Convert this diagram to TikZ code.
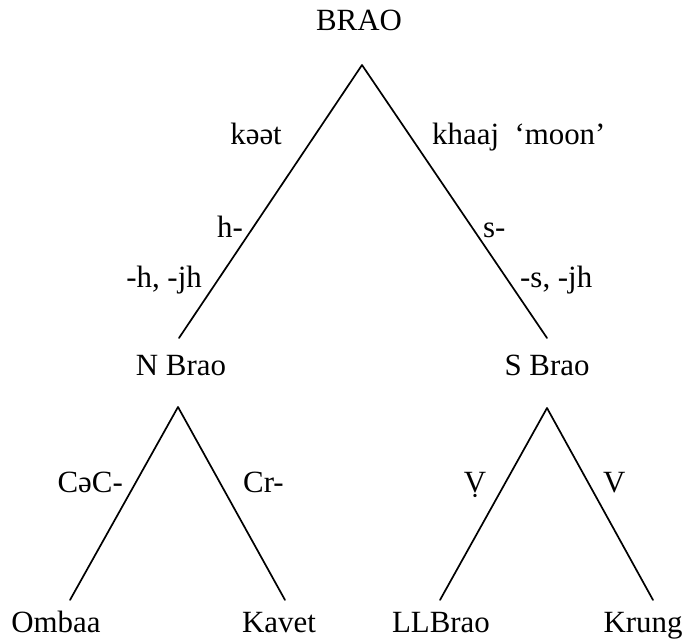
\documentclass[tikz,border=0pt]{standalone}
\usepackage{fontspec}
\setmainfont{Liberation Serif}
\begin{document}
\begin{tikzpicture}[x=1bp,y=-1bp,
  lbl/.style={inner sep=0pt,font=\fontsize{31}{36}\selectfont},
  branch/.style={line width=1.7bp,line cap=round,line join=round}]
\useasboundingbox (0,0) rectangle (689,643);
% tree points
\coordinate (top) at (362,65);
\coordinate (nend) at (179,338);
\coordinate (send) at (547,338);
\coordinate (ntop) at (178,407);
\coordinate (stop) at (547,408);
\coordinate (oend) at (70,600);
\coordinate (kend) at (285,600);
\coordinate (lend) at (440,600);
\coordinate (krend) at (653,600);
% branches
\draw[branch] (nend) -- (top) -- (send);
\draw[branch] (oend) -- (ntop) -- (kend);
\draw[branch] (lend) -- (stop) -- (krend);
% labels
\node[lbl,anchor=base] (brao) at (359,31) {BRAO};
\node[lbl,anchor=base east] (kaat) at (282,145) {kəət};
\node[lbl,anchor=base west] (khaaj) at (432,145) {khaaj\ \ ‘moon’};
\node[lbl,anchor=base east] (hpre) at (243,237) {h-};
\node[lbl,anchor=base west] (spre) at (483,237) {s-};
\node[lbl,anchor=base east] (hsuf) at (202,287) {-h,\ -jh};
\node[lbl,anchor=base west] (ssuf) at (520,287) {-s,\ -jh};
\node[lbl,anchor=base] (nbrao) at (181,375) {N Brao};
\node[lbl,anchor=base] (sbrao) at (547,375) {S Brao};
\node[lbl,anchor=base east] (cac) at (123,492) {CəC-};
\node[lbl,anchor=base west] (cr) at (243,492) {Cr-};
\node[lbl,anchor=base] (vdot) at (475,492) {Ṿ};
\node[lbl,anchor=base west] (vv) at (603,492) {V};
\node[lbl,anchor=base] (ombaa) at (56,632) {Ombaa};
\node[lbl,anchor=base] (kavet) at (279,632) {Kavet};
\node[lbl,anchor=base] (llbrao) at (441,632) {LLBrao};
\node[lbl,anchor=base] (krung) at (643,632) {Krung};
\end{tikzpicture}
\end{document}
